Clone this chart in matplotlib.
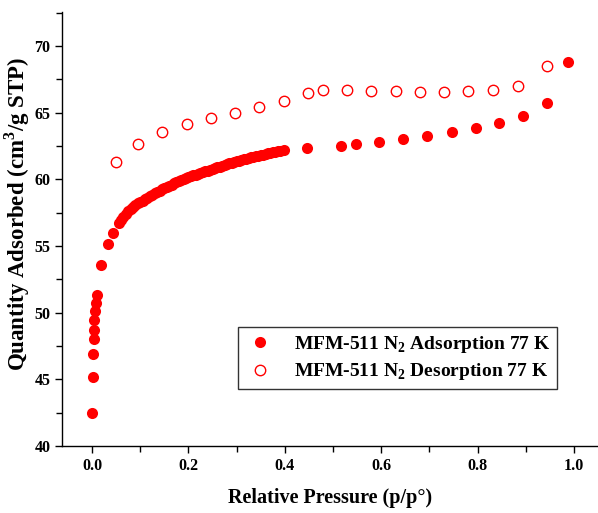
import matplotlib
matplotlib.use("Agg")
import matplotlib.pyplot as plt
from matplotlib.ticker import MultipleLocator

plt.rcParams['font.family'] = ['Liberation Serif', 'DejaVu Serif']
plt.rcParams['font.weight'] = 'bold'
plt.rcParams['mathtext.fontset'] = 'custom'
plt.rcParams['mathtext.rm'] = 'Liberation Serif:bold'
plt.rcParams['mathtext.bf'] = 'Liberation Serif:bold'

# adsorption branch
ads_p = [0.000, 0.001, 0.002, 0.003, 0.004, 0.005, 0.006, 0.008, 0.010,
         0.018, 0.033, 0.044, 0.056,
         0.060, 0.065, 0.070, 0.075, 0.080, 0.085, 0.090, 0.095, 0.100, 0.105,
         0.110, 0.115, 0.120, 0.125, 0.130, 0.135, 0.140, 0.145, 0.150, 0.155,
         0.160, 0.165, 0.170, 0.175, 0.180, 0.185, 0.190, 0.195, 0.200, 0.205,
         0.210, 0.215, 0.220, 0.225, 0.230, 0.235, 0.240, 0.245, 0.250, 0.255,
         0.260, 0.265, 0.270, 0.275, 0.280, 0.285, 0.290, 0.295, 0.300, 0.305,
         0.310, 0.315, 0.320, 0.325, 0.330, 0.335, 0.340, 0.345, 0.350, 0.355,
         0.360, 0.365, 0.370, 0.375, 0.380, 0.385, 0.390, 0.398,
         0.447, 0.516, 0.548, 0.596, 0.646, 0.696, 0.746, 0.796, 0.845,
         0.895, 0.945, 0.988]
ads_q = [42.5, 45.2, 46.9, 48.0, 48.7, 49.45, 50.1, 50.7, 51.3,
         53.6, 55.15, 56.0, 56.75,
         56.95, 57.2, 57.4, 57.6, 57.75, 57.9, 58.05, 58.2, 58.3, 58.4,
         58.5, 58.62, 58.75, 58.85, 58.95, 59.05, 59.15, 59.25, 59.35, 59.42,
         59.5, 59.6, 59.7, 59.78, 59.85, 59.92, 60.0, 60.08, 60.15, 60.22,
         60.3, 60.35, 60.4, 60.48, 60.55, 60.6, 60.65, 60.72, 60.8, 60.85,
         60.9, 60.95, 61.0, 61.08, 61.15, 61.2, 61.25, 61.3, 61.35, 61.4,
         61.45, 61.5, 61.55, 61.6, 61.65, 61.7, 61.75, 61.78, 61.82, 61.86,
         61.9, 61.95, 62.0, 62.03, 62.07, 62.1, 62.13, 62.2,
         62.33, 62.48, 62.65, 62.83, 63.05, 63.25, 63.55, 63.85, 64.2,
         64.75, 65.75, 68.83]

# desorption branch
des_p = [0.945, 0.884, 0.832, 0.781, 0.731, 0.680, 0.630, 0.579, 0.530,
         0.479, 0.449, 0.398, 0.347, 0.297, 0.246, 0.196, 0.145, 0.095, 0.050]
des_q = [68.48, 67.0, 66.7, 66.6, 66.53, 66.55, 66.6, 66.65, 66.7,
         66.7, 66.5, 65.9, 65.4, 65.0, 64.63, 64.15, 63.55, 62.68, 61.28]

fig = plt.figure(figsize=(5.98, 5.13), dpi=100)
ax = fig.add_axes([0.104, 0.1306, 0.896, 0.846])

ax.plot(ads_p, ads_q, 'o', color='#ff0000', markersize=8, markeredgewidth=0,
        label='MFM-511 N$_2$ Adsorption 77 K')
ax.plot(des_p, des_q, 'o', color='#ff0000', markerfacecolor='none',
        markersize=7.5, markeredgewidth=1.0,
        label='MFM-511 N$_2$ Desorption 77 K')

ax.set_xlim(-0.062, 1.05)
ax.set_ylim(40, 72.55)
ax.xaxis.set_major_locator(MultipleLocator(0.2))
ax.xaxis.set_minor_locator(MultipleLocator(0.1))
ax.yaxis.set_major_locator(MultipleLocator(5))
ax.yaxis.set_minor_locator(MultipleLocator(2.5))
ax.xaxis.set_major_formatter(plt.FormatStrFormatter('%.1f'))

for s in ['top', 'right']:
    ax.spines[s].set_visible(False)
for s in ['left', 'bottom']:
    ax.spines[s].set_linewidth(1.0)
ax.tick_params(which='major', direction='out', length=5, width=1, labelsize=11.5)
ax.tick_params(which='minor', direction='out', length=4, width=1)

ax.set_xlabel('Relative Pressure (p/p°)', fontsize=14.5, fontweight='bold', labelpad=10)
ax.set_ylabel('Quantity Adsorbed (cm$^3$/g STP)', fontsize=16.5, fontweight='bold')
ax.yaxis.set_label_coords(-0.056, 0.535)

leg = ax.legend(loc='lower right', bbox_to_anchor=(0.923, 0.131), fontsize=14,
                frameon=True, fancybox=False, edgecolor='black',
                handletextpad=0.9, handlelength=1.6, borderpad=0.35,
                labelspacing=0.35, borderaxespad=0)
leg.get_frame().set_linewidth(1.0)

fig.savefig('out.png', dpi=100)
